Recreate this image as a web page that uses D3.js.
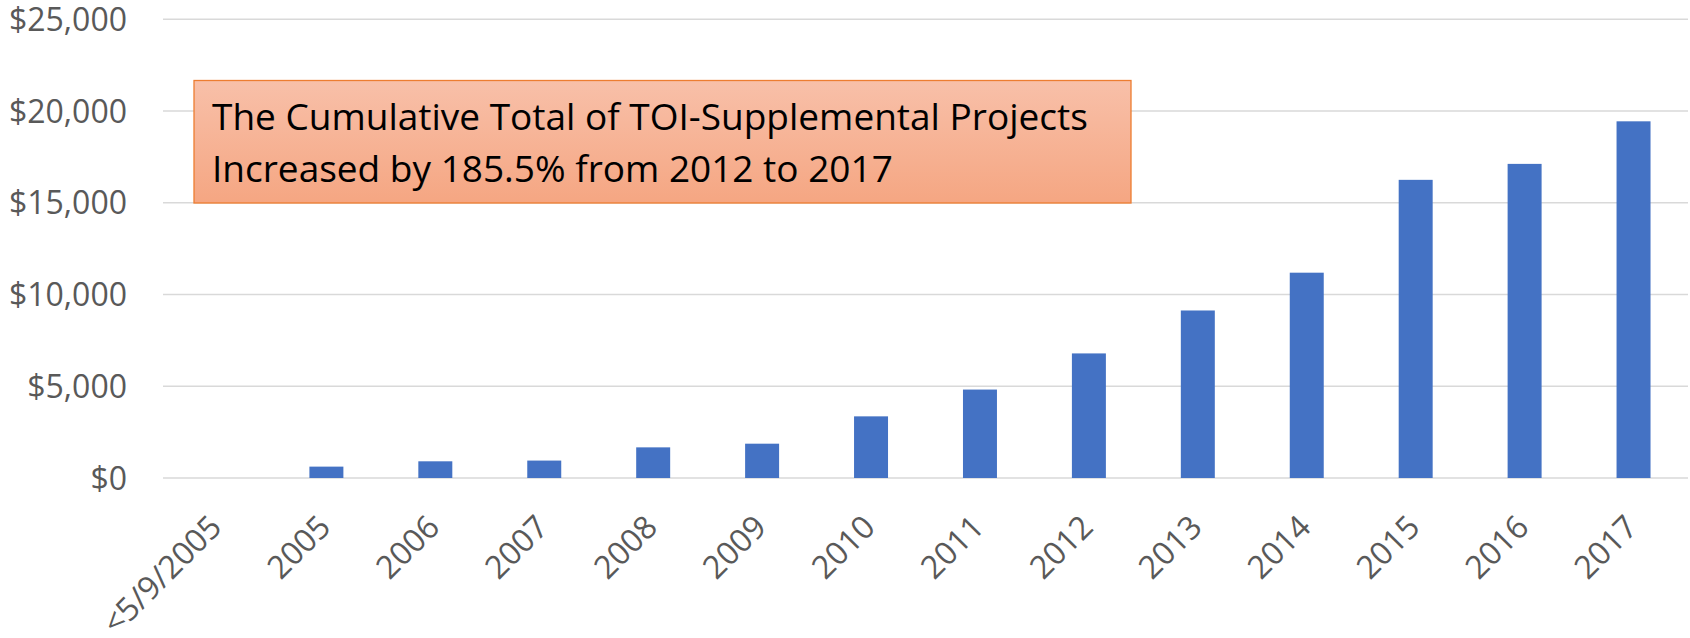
<!DOCTYPE html>
<html lang="en">
<head>
    <meta charset="UTF-8">
    <title>Cumulative Total of TOI-Supplemental Projects</title>
    <script src="https://d3js.org/d3.v7.min.js"></script>
    <style>
        html, body {
            margin: 0;
            padding: 0;
            background: #fff;
        }

        svg {
            display: block;
            font-family: "Open Sans", "Noto Sans", sans-serif;
        }

        .grid line {
            stroke: #d9d9d9;
            stroke-width: 1.4px;
        }

        .tick-label {
            fill: #595959;
            font-size: 32px;
        }

        .note-text {
            fill: #000;
            font-size: 37px;
        }
    </style>
</head>
<body>
    <script>
        // Chart data
        const categories = ["<5/9/2005", "2005", "2006", "2007", "2008", "2009", "2010",
            "2011", "2012", "2013", "2014", "2015", "2016", "2017"];
        const totals = [0, 620, 910, 950, 1670, 1870, 3360, 4820, 6790, 9130, 11190, 16250, 17120, 19440];
        const yTicks = [0, 5000, 10000, 15000, 20000, 25000];
        const noteLines = ["The Cumulative Total of TOI-Supplemental Projects",
            "Increased by 185.5% from 2012 to 2017"];

        const width = 1690;
        const height = 638;
        const margin = {top: 19.3, right: 2, bottom: 160, left: 163};

        const svg = d3.select("body")
            .append("svg")
            .attr("width", width)
            .attr("height", height);

        const x = d3.scaleBand()
            .domain(categories)
            .range([margin.left, width - margin.right])
            .paddingInner(0.688)
            .paddingOuter(0.344);

        const y = d3.scaleLinear()
            .domain([0, 25000])
            .range([height - margin.bottom, margin.top]);

        const money = d3.format("$,");

        // Gridlines
        svg.append("g")
            .attr("class", "grid")
            .selectAll("line")
            .data(yTicks)
            .enter()
            .append("line")
            .attr("x1", margin.left)
            .attr("x2", width - margin.right)
            .attr("y1", d => y(d))
            .attr("y2", d => y(d));

        // Y tick labels
        svg.append("g")
            .selectAll("text")
            .data(yTicks)
            .enter()
            .append("text")
            .attr("class", "tick-label")
            .attr("x", margin.left - 36)
            .attr("y", d => y(d))
            .attr("dy", "0.36em")
            .attr("text-anchor", "end")
            .text(d => money(d));

        // Bars
        svg.append("g")
            .selectAll("rect")
            .data(totals)
            .enter()
            .append("rect")
            .attr("x", (d, i) => x(categories[i]))
            .attr("width", x.bandwidth())
            .attr("y", d => y(d))
            .attr("height", d => y(0) - y(d))
            .attr("fill", "#4472c4");

        // X tick labels, rotated -45
        svg.append("g")
            .selectAll("text")
            .data(categories)
            .enter()
            .append("text")
            .attr("class", "tick-label")
            .attr("text-anchor", "end")
            .attr("transform", d => {
                const px = x(d) + x.bandwidth() / 2 + 6;
                const py = y(0) + 51;
                return `translate(${px},${py}) rotate(-45)`;
            })
            .text(d => d);

        // Annotation box
        const defs = svg.append("defs");
        const grad = defs.append("linearGradient")
            .attr("id", "noteFill")
            .attr("x1", 0).attr("y1", 0)
            .attr("x2", 0).attr("y2", 1);
        grad.append("stop").attr("offset", "0%").attr("stop-color", "#f8c0a9");
        grad.append("stop").attr("offset", "100%").attr("stop-color", "#f5a682");

        const note = svg.append("g");
        note.append("rect")
            .attr("x", 194)
            .attr("y", 80.5)
            .attr("width", 937)
            .attr("height", 122.5)
            .attr("fill", "url(#noteFill)")
            .attr("stroke", "#ed7d31")
            .attr("stroke-width", 1.3);

        note.selectAll("text")
            .data(noteLines)
            .enter()
            .append("text")
            .attr("class", "note-text")
            .attr("x", 212)
            .attr("y", (d, i) => 130 + i * 52.4)
            .text(d => d);
    </script>
</body>
</html>
